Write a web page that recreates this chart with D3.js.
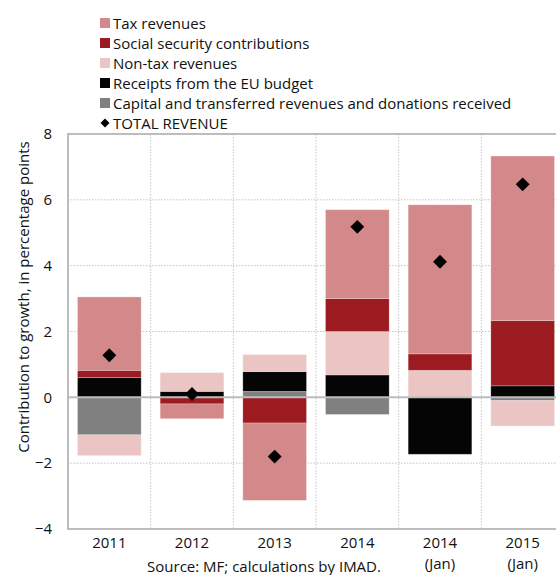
<!DOCTYPE html>
<html>
<head>
<meta charset="utf-8">
<script src="https://cdn.jsdelivr.net/npm/d3@7"></script>
<style>
  body { margin: 0; background: #fff; }
  text { font-family: "Open Sans", sans-serif; fill: #111; }
</style>
</head>
<body>
<div id="chart"></div>
<script>
// data
const categories = ["2011", "2012", "2013", "2014", "2014|(Jan)", "2015|(Jan)"];
const capital = [-1.14, 0, 0.18, -0.52, 0, -0.1];
const euBudget = [0.6, 0.18, 0.6, 0.68, -1.73, 0.35];
const nonTax = [-0.63, 0.57, 0.52, 1.32, 0.82, -0.77];
const social = [0.22, -0.2, -0.78, 1.0, 0.5, 1.98];
const tax = [2.23, -0.45, -2.35, 2.7, 4.53, 5.0];
const total = [1.28, 0.1, -1.8, 5.18, 4.12, 6.47];
const yTicks = [-4, -2, 0, 2, 4, 6, 8];

const series = [
    {key: "capital", name: "Capital and transferred revenues and donations received", values: capital, color: "#808080"},
    {key: "eu", name: "Receipts from the EU budget", values: euBudget, color: "#050505"},
    {key: "nontax", name: "Non-tax revenues", values: nonTax, color: "#ebc4c4"},
    {key: "social", name: "Social security contributions", values: social, color: "#9c1b20"},
    {key: "tax", name: "Tax revenues", values: tax, color: "#d3898a"}
];
const legendOrder = ["tax", "social", "nontax", "eu", "capital"];

const width = 556, height = 575;
const margin = {left: 68, right: -8, top: 134, bottom: 46};
const fontSize = "15px";

const svg = d3.select("#chart").append("svg")
    .attr("width", width)
    .attr("height", height);

// table for the stack
const table = categories.map((c, i) => {
    const row = {cat: c};
    series.forEach(s => row[s.key] = s.values[i]);
    return row;
});

const stack = d3.stack()
    .keys(series.map(s => s.key))
    .offset(d3.stackOffsetDiverging);
const stacked = stack(table);

const x = d3.scaleBand()
    .domain(categories)
    .range([margin.left, width - margin.right])
    .paddingInner(0.23)
    .paddingOuter(0.115);

const y = d3.scaleLinear()
    .domain([-4, 8])
    .range([height - margin.bottom, margin.top]);

const plotRight = width - margin.right;

// grid
const grid = svg.append("g")
    .attr("stroke", "#c4c4c4")
    .attr("stroke-dasharray", "1.5,1.5");
grid.selectAll("line.h")
    .data(yTicks.filter(t => t !== 0 && t !== 8 && t !== -4))
    .join("line")
    .attr("class", "h")
    .attr("x1", margin.left).attr("x2", plotRight)
    .attr("y1", d => y(d)).attr("y2", d => y(d));
grid.selectAll("line.v")
    .data(categories.slice(1))
    .join("line")
    .attr("class", "v")
    .attr("x1", d => x(d) - x.step() * x.paddingInner() / 2)
    .attr("x2", d => x(d) - x.step() * x.paddingInner() / 2)
    .attr("y1", y(8)).attr("y2", y(-4));

// bars
const colorOf = Object.fromEntries(series.map(s => [s.key, s.color]));
svg.append("g")
    .selectAll("g")
    .data(stacked)
    .join("g")
    .attr("fill", d => colorOf[d.key])
    .selectAll("rect")
    .data(d => d)
    .join("rect")
    .attr("x", d => x(d.data.cat))
    .attr("width", x.bandwidth())
    .attr("y", d => y(Math.max(d[0], d[1])))
    .attr("height", d => Math.abs(y(d[0]) - y(d[1])))
    .attr("stroke", "#fff")
    .attr("stroke-opacity", 0.3)
    .attr("stroke-width", 0.8);

// frame and zero line
const frame = svg.append("g").attr("stroke", "#bdbdbd").attr("stroke-width", 2).attr("fill", "none");
frame.append("line").attr("x1", margin.left).attr("x2", plotRight).attr("y1", y(8)).attr("y2", y(8));
frame.append("line").attr("x1", margin.left).attr("x2", plotRight).attr("y1", y(-4)).attr("y2", y(-4));
frame.append("line").attr("x1", margin.left).attr("x2", margin.left).attr("y1", y(8) - 1).attr("y2", y(-4) + 1);
frame.append("line").attr("x1", margin.left).attr("x2", plotRight).attr("y1", y(0)).attr("y2", y(0));

// total revenue diamonds
const diamond = d3.symbol().type(d3.symbolSquare).size(96);
svg.append("g")
    .selectAll("path")
    .data(total)
    .join("path")
    .attr("d", diamond)
    .attr("fill", "#000")
    .attr("transform", (d, i) => `translate(${x(categories[i]) + x.bandwidth() / 2},${y(d)}) rotate(45)`);

// y axis labels
const yAxis = d3.axisLeft(y).tickValues(yTicks).tickSize(0).tickPadding(16);
svg.append("g")
    .attr("transform", `translate(${margin.left},0)`)
    .call(yAxis)
    .call(g => g.select(".domain").remove())
    .selectAll("text")
    .style("font-size", fontSize)
    .style("font-family", "'Open Sans', sans-serif")
    .attr("fill", "#111");

svg.append("text")
    .attr("transform", `translate(29,297) rotate(-90)`)
    .attr("text-anchor", "middle")
    .style("font-size", fontSize)
    .text("Contribution to growth, in percentage points");

// x labels
const xl = svg.append("g")
    .selectAll("text")
    .data(categories)
    .join("text")
    .attr("x", d => x(d) + x.bandwidth() / 2)
    .attr("y", y(-4) + 19)
    .attr("text-anchor", "middle")
    .style("font-size", fontSize);
xl.selectAll("tspan")
    .data(d => d.split("|"))
    .join("tspan")
    .attr("x", function() { return d3.select(this.parentNode).attr("x"); })
    .attr("dy", (d, i) => i === 0 ? 0 : 21)
    .text(d => d);

svg.append("text")
    .attr("x", 264)
    .attr("y", 572)
    .attr("text-anchor", "middle")
    .style("font-size", fontSize)
    .text("Source: MF; calculations by IMAD.");

// legend
const legend = svg.append("g").attr("transform", "translate(100,23)");
const legendItems = legendOrder.map(k => series.find(s => s.key === k));
legendItems.forEach((s, i) => {
    const row = legend.append("g").attr("transform", `translate(0,${i * 20})`);
    row.append("rect").attr("x", 0).attr("y", -5).attr("width", 10).attr("height", 10).attr("fill", s.color);
    row.append("text").attr("x", 13).attr("y", 5.5).style("font-size", fontSize).text(s.name);
});
const totalRow = legend.append("g").attr("transform", `translate(0,${legendItems.length * 20})`);
totalRow.append("path").attr("d", d3.symbol().type(d3.symbolSquare).size(40)).attr("transform", "translate(5,0) rotate(45)").attr("fill", "#000");
totalRow.append("text").attr("x", 13).attr("y", 5.5).style("font-size", fontSize).text("TOTAL REVENUE");
</script>
</body>
</html>
